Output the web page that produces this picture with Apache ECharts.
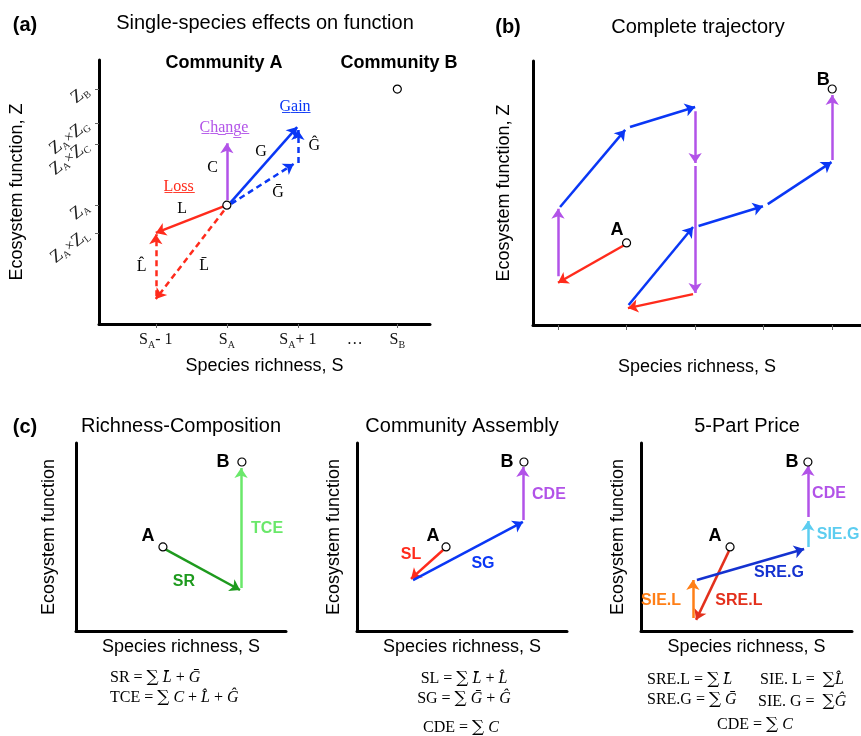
<!DOCTYPE html>
<html><head><meta charset="utf-8">
<script src="https://cdn.jsdelivr.net/npm/echarts@6/dist/echarts.min.js"></script>
<style>html,body{margin:0;padding:0;background:#fff}#c{width:861px;height:736px}</style>
</head><body><div id="c"></div>
<script>
// ---------------- DATA ----------------
// Panel (a): single-species effects
const aXTickValues = [1, 2, 3, 4.4];
const aXLabelValues = [1, 2, 3, 3.8, 4.4];
const aXLabelText = ['{m|S}{s|A}{m|- 1}', '{m|S}{s|A}', '{m|S}{s|A}{m|+ 1}', '{m|…}', '{m|S}{s|B}'];
const aYTickValues = [34.5, 45, 68, 76, 89];
const aYLabelText = ['{z|Z}{s|A}{x|×}{z|Z}{s|L}', '{z|Z}{s|A}', '{z|Z}{s|A}{x|×}{z|Z}{s|C}', '{z|Z}{s|A}{x|×}{z|Z}{s|G}', '{z|Z}{s|B}'];
const aPoints = [['A', 2, 45], ['B', 4.4, 89]];
const aArrows = [
  ['L', 2.0, 45, 1.0, 34.5],
  ['Lbar', 1.96, 43, 1.0, 9.5],
  ['Lhat', 1.0, 10.5, 1.0, 34],
  ['C', 2.0, 47, 2.0, 68.5],
  ['G', 2.05, 46, 2.99, 74.6],
  ['Gbar', 2.06, 45.5, 2.94, 60.6],
  ['Ghat', 3.0, 61, 3.0, 73.5]
];
const aLabels = [
  ['Gain', 2.96, 82.2, 'gainU'],
  ['Change', 1.96, 74.2, 'changeU'],
  ['Loss', 1.32, 51.9, 'lossU'],
  ['C', 1.80, 59.1, 'serif'],
  ['G', 2.48, 65.2, 'serif'],
  ['G\u0302', 3.23, 67.4, 'serif'],
  ['G\u0304', 2.72, 49.6, 'serif'],
  ['L', 1.37, 43.6, 'serif'],
  ['L\u0302', 0.80, 21.6, 'serif'],
  ['L\u0304', 1.68, 22.0, 'serif']
];

// Panel (b): complete trajectory
const bXTickValues = [1, 2, 3, 4, 5];
const bPoints = [['A', 2, 31.1], ['B', 5, 89.4]];
const bArrows = [
  ['loss', 1.97, 30.3, 1.0, 16],
  ['change', 1.0, 18.5, 1.0, 44],
  ['gain', 1.03, 44.7, 1.98, 73.9],
  ['gain', 2.05, 75, 3.0, 82.6],
  ['change', 3.0, 81, 3.0, 61.4],
  ['change', 3.0, 60.2, 3.0, 12.1],
  ['loss', 2.97, 11.7, 2.02, 6.4],
  ['gain', 2.03, 7.6, 2.97, 37.1],
  ['gain', 3.05, 37.5, 3.99, 45],
  ['gain', 4.06, 45.8, 4.99, 61.7],
  ['change', 5.0, 62.5, 5.0, 87.1]
];
const bLabels = [['A', 1.86, 36, 'pt'], ['B', 4.87, 92.8, 'pt']];

// Panel (c1): Richness-Composition
const c1Points = [['A', 41.4, 44.7], ['B', 79, 89.9]];
const c1Arrows = [['SR', 42.4, 43.6, 78.1, 21.8], ['TCE', 78.6, 22.9, 78.6, 86.7]];
const c1Labels = [['A', 34.3, 50.5, 'pt'], ['B', 70, 89.9, 'pt'], ['SR', 51.4, 26.1, 'SR'], ['TCE', 91, 54.3, 'TCE']];

// Panel (c2): Community Assembly
const c2Points = [['A', 42.4, 44.7], ['B', 79.5, 89.9]];
const c2Arrows = [['SL', 41, 43.1, 25.7, 27.7], ['SG', 26.7, 27.1, 79, 58], ['CDE', 79, 59, 79, 87.2]];
const c2Labels = [['A', 36.2, 50.5, 'pt'], ['B', 71.4, 89.9, 'pt'], ['SL', 25.7, 40.4, 'SL'], ['SG', 60, 35.6, 'SG'], ['CDE', 91.4, 72.3, 'CDE']];

// Panel (c3): 5-Part Price
const c3Points = [['A', 42.2, 44.7], ['B', 79.1, 89.9]];
const c3Arrows = [
  ['SRE.L', 41.7, 42.6, 26.1, 5.9],
  ['SIE.L', 24.6, 6.9, 24.6, 27.1],
  ['SRE.G', 26.5, 27.1, 77.3, 43.6],
  ['SIE.G', 79.1, 44.7, 79.1, 58.5],
  ['CDE', 79.1, 60.6, 79.1, 87.8]
];
const c3Labels = [['A', 35.1, 50.5, 'pt'], ['B', 71.6, 89.9, 'pt'], ['SIE.L', 9.5, 16, 'SIE.L'], ['SRE.L', 46.4, 16, 'SRE.L'],
  ['SRE.G', 65.4, 30.9, 'SRE.G'], ['SIE.G', 93.4, 51.1, 'SIE.G'], ['CDE', 89.1, 72.9, 'CDE']];

const panelTags = ['(a)', '(b)', '(c)'];
const panelTitles = ['Single-species effects on function', 'Complete trajectory', 'Richness-Composition', 'Community Assembly', '5-Part Price'];
const communityNames = ['Community A', 'Community B'];
const eqC1 = ['{r|SR = }{m|∑}{i| L\u0304}{r| + }{i|G\u0304}', '{r|TCE = }{m|∑}{i| C}{r| + }{i|L\u0302}{r| + }{i|G\u0302}'];
const eqC2 = ['{r|SL = }{m|∑}{i| L\u0304}{r| + }{i|L\u0302}', '{r|SG = }{m|∑}{i| G\u0304}{r| + }{i|G\u0302}', '{r|CDE = }{m|∑}{i| C}'];
const eqC3 = ['{r|SRE.L = }{m|∑}{i| L\u0304}', '{r|SRE.G = }{m|∑}{i| G\u0304}', '{r|SIE. L =  }{m|∑}{i|L\u0302}', '{r|SIE. G =  }{m|∑}{i|G\u0302}', '{r|CDE = }{m|∑}{i| C}'];

// ---------------- STYLE ----------------
const RED = '#ff2b1c', BLUE = '#0a37f5', PURPLE = '#b253e8', DGREEN = '#1e9a1e', LGREEN = '#6ae86a',
      ORANGE = '#ff7f17', LBLUE = '#5ccdf0', DRED = '#e3301c', DBLUE = '#1432d0';
const DASH = [6, 4];
const ARROW = {
  L: [RED, 'solid'], Lbar: [RED, DASH], Lhat: [RED, DASH], C: [PURPLE, 'solid'],
  G: [BLUE, 'solid'], Gbar: [BLUE, DASH], Ghat: [BLUE, DASH],
  loss: [RED, 'solid'], gain: [BLUE, 'solid'], change: [PURPLE, 'solid'],
  SR: [DGREEN, 'solid'], TCE: [LGREEN, 'solid'], SL: [RED, 'solid'], SG: [BLUE, 'solid'], CDE: [PURPLE, 'solid'],
  'SRE.L': [DRED, 'solid'], 'SIE.L': [ORANGE, 'solid'], 'SRE.G': [DBLUE, 'solid'], 'SIE.G': [LBLUE, 'solid']
};
const SANS = 'Liberation Sans', SERIF = 'Liberation Serif';
const LABEL = {
  pt: {color: '#000', fontFamily: SANS, fontWeight: 'bold', fontSize: 18},
  serif: {color: '#000', fontFamily: SERIF, fontWeight: 'normal', fontSize: 16},
  gainU: {color: BLUE, fontFamily: SERIF, fontWeight: 'normal', fontSize: 16},
  changeU: {color: PURPLE, fontFamily: SERIF, fontWeight: 'normal', fontSize: 16},
  lossU: {color: RED, fontFamily: SERIF, fontWeight: 'normal', fontSize: 16},
  SR: {color: DGREEN}, TCE: {color: LGREEN}, SL: {color: RED}, SG: {color: BLUE}, CDE: {color: PURPLE},
  'SRE.L': {color: DRED}, 'SIE.L': {color: ORANGE}, 'SRE.G': {color: DBLUE}, 'SIE.G': {color: LBLUE}
};

function underline(t) { return t.split('').map(ch => ch + '\u0332').join(''); }

function arrowSeries(arrows, gi) {
  return {
    type: 'lines', coordinateSystem: 'cartesian2d', xAxisIndex: gi, yAxisIndex: gi,
    symbol: ['none', 'arrow'], symbolSize: 10, silent: true, z: 3, animation: false,
    lineStyle: {width: 2.5, opacity: 1},
    data: arrows.map(a => ({
      coords: [[a[1], a[2]], [a[3], a[4]]],
      lineStyle: {color: ARROW[a[0]][0], type: ARROW[a[0]][1], width: 2.5, opacity: 1},
      itemStyle: {color: ARROW[a[0]][0]}
    }))
  };
}
function pointSeries(pts, gi) {
  return {
    type: 'scatter', xAxisIndex: gi, yAxisIndex: gi, symbol: 'circle', symbolSize: 8, z: 5, silent: true,
    itemStyle: {color: '#fff', borderColor: '#000', borderWidth: 1.2, opacity: 1},
    data: pts.map(p => ({name: p[0], value: [p[1], p[2]]}))
  };
}
function labelSeries(labs, gi) {
  return {
    type: 'scatter', xAxisIndex: gi, yAxisIndex: gi, symbolSize: 0, z: 6, silent: true, clip: false,
    itemStyle: {opacity: 1},
    data: labs.map(l => {
      const st = LABEL[l[3]];
      const underl = /U$/.test(l[3]);
      return {
        name: l[0], value: [l[1], l[2]],
        itemStyle: {opacity: 1},
        label: Object.assign({show: true, position: 'inside', fontFamily: SANS, fontWeight: 'bold', fontSize: 16, opacity: 1,
          formatter: underl ? underline(l[0]) : l[0]}, st)
      };
    })
  };
}

const AXLINE = {show: true, onZero: false, lineStyle: {color: '#000', width: 3}};
const NAME = {fontFamily: SANS, fontSize: 18, color: '#000'};
function plainX(gi, name, gap) {
  return {type: 'value', gridIndex: gi, min: 0, max: 100, axisLine: AXLINE, axisTick: {show: false},
    axisLabel: {show: false}, splitLine: {show: false}, name: name, nameLocation: 'middle', nameGap: gap, nameTextStyle: NAME};
}
function plainY(gi, name, gap) {
  return {type: 'value', gridIndex: gi, min: 0, max: 100, axisLine: AXLINE, axisTick: {show: false},
    axisLabel: {show: false}, splitLine: {show: false}, name: name, nameLocation: 'middle', nameGap: gap, nameRotate: 90, nameTextStyle: NAME};
}
const SUBRICH = {
  m: {fontFamily: SERIF, fontSize: 16, lineHeight: 20, color: '#111'},
  z: {fontFamily: SERIF, fontSize: 18, lineHeight: 20, color: '#222'},
  x: {fontFamily: SERIF, fontSize: 15, lineHeight: 20, color: '#222'},
  s: {fontFamily: SERIF, fontSize: 10, lineHeight: 8, verticalAlign: 'bottom', color: '#222'}
};

const option = {
  animation: false,
  backgroundColor: '#fff',
  textStyle: {fontFamily: SANS},
  grid: [
    {left: 99, top: 60, width: 331, height: 264},
    {left: 533, top: 61, width: 328, height: 264},
    {left: 76, top: 443, width: 210, height: 188},
    {left: 357, top: 443, width: 210, height: 188},
    {left: 641, top: 443, width: 211, height: 188}
  ],
  xAxis: [
    {type: 'value', gridIndex: 0, min: 0.2, max: 4.86, axisLine: AXLINE, splitLine: {show: false},
      axisTick: {show: true, customValues: aXTickValues, length: 4, lineStyle: {color: '#666', width: 1}},
      axisLabel: {show: true, customValues: aXLabelValues, margin: 6, rich: SUBRICH,
        formatter: v => aXLabelText[aXLabelValues.indexOf(v)] || ''},
      name: 'Species richness, S', nameLocation: 'middle', nameGap: 33, nameTextStyle: NAME},
    {type: 'value', gridIndex: 1, min: 0.635, max: 5.42, axisLine: AXLINE, splitLine: {show: false},
      axisTick: {show: true, customValues: bXTickValues, length: 5, lineStyle: {color: '#666', width: 1}},
      axisLabel: {show: false},
      name: 'Species richness, S', nameLocation: 'middle', nameGap: 33, nameTextStyle: NAME},
    plainX(2, 'Species richness, S', 7),
    plainX(3, 'Species richness, S', 7),
    plainX(4, 'Species richness, S', 7)
  ],
  yAxis: [
    {type: 'value', gridIndex: 0, min: 0, max: 100, axisLine: AXLINE, splitLine: {show: false},
      axisTick: {show: true, customValues: aYTickValues, length: 4, lineStyle: {color: '#666', width: 1}},
      axisLabel: {show: true, customValues: aYTickValues, margin: 12, rotate: 38, rich: SUBRICH,
        formatter: v => aYLabelText[aYTickValues.indexOf(v)] || ''},
      name: 'Ecosystem function, Z', nameLocation: 'middle', nameGap: 73, nameRotate: 90, nameTextStyle: NAME},
    {type: 'value', gridIndex: 1, min: 0, max: 100, axisLine: AXLINE, splitLine: {show: false},
      axisTick: {show: false}, axisLabel: {show: false},
      name: 'Ecosystem function, Z', nameLocation: 'middle', nameGap: 20, nameRotate: 90, nameTextStyle: NAME},
    plainY(2, 'Ecosystem function', 18),
    plainY(3, 'Ecosystem function', 14),
    plainY(4, 'Ecosystem function', 14)
  ],
  series: [
    arrowSeries(aArrows, 0), pointSeries(aPoints, 0), labelSeries(aLabels, 0),
    arrowSeries(bArrows, 1), pointSeries(bPoints, 1), labelSeries(bLabels, 1),
    arrowSeries(c1Arrows, 2), pointSeries(c1Points, 2), labelSeries(c1Labels, 2),
    arrowSeries(c2Arrows, 3), pointSeries(c2Points, 3), labelSeries(c2Labels, 3),
    arrowSeries(c3Arrows, 4), pointSeries(c3Points, 4), labelSeries(c3Labels, 4)
  ]
};

function txt(text, x, y, size, bold, align) {
  return {type: 'text', x: x, y: y, silent: true,
    style: {text: text, fontFamily: SANS, fontSize: size, fontWeight: bold ? 'bold' : 'normal', fill: '#000',
      align: align || 'center', verticalAlign: 'middle'}};
}
const EQRICH = {
  r: {fontFamily: SERIF, fontSize: 16, color: '#000', lineHeight: 20},
  m: {fontFamily: 'DejaVu Serif', fontSize: 17, color: '#000', lineHeight: 20},
  i: {fontFamily: SERIF, fontSize: 16, fontStyle: 'italic', color: '#000', lineHeight: 20}
};
function eq(text, x, y, align) {
  return {type: 'text', x: x, y: y, silent: true,
    style: {text: text, rich: EQRICH, fontFamily: SERIF, fontSize: 16, fill: '#000', align: align || 'center', verticalAlign: 'middle'}};
}
option.graphic = [
  txt(panelTags[0], 25, 25, 20, true),
  txt(panelTitles[0], 265, 23, 20, false),
  txt(panelTags[1], 508, 27, 20, true),
  txt(panelTitles[1], 698, 27, 20, false),
  txt(communityNames[0], 224, 63, 18, true),
  txt(communityNames[1], 399, 63, 18, true),
  txt(panelTags[2], 25, 427, 20, true),
  txt(panelTitles[2], 181, 426, 20, false),
  txt(panelTitles[3], 462, 426, 20, false),
  txt(panelTitles[4], 747, 426, 20, false),
  eq(eqC1[0], 110, 678, 'left'),
  eq(eqC1[1], 110, 698, 'left'),
  eq(eqC2[0], 464, 679),
  eq(eqC2[1], 464, 699),
  eq(eqC2[2], 461, 728),
  eq(eqC3[0], 647, 680, 'left'),
  eq(eqC3[1], 647, 700, 'left'),
  eq(eqC3[2], 760, 680, 'left'),
  eq(eqC3[3], 758, 702, 'left'),
  eq(eqC3[4], 755, 725)
];

const chart = echarts.init(document.getElementById('c'), null, {renderer: 'canvas'});
chart.setOption(option);
</script>
</body></html>
